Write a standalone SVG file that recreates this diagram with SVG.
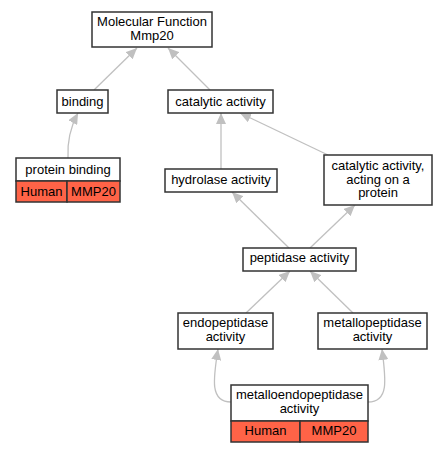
<svg xmlns="http://www.w3.org/2000/svg" width="447" height="453" viewBox="0 0 447 453">
<style>
.box{fill:#fff;stroke:#333;stroke-width:1.5}
.red{fill:#ff6347;stroke:#333;stroke-width:1.5}
text{font-family:"Liberation Sans",Arial,sans-serif;font-size:13px;fill:#000;text-anchor:middle}
.e{fill:none;stroke:#c0c0c0;stroke-width:1.3}
</style>
<defs>
<marker id="ah" markerUnits="userSpaceOnUse" markerWidth="12" markerHeight="10" refX="11" refY="5" orient="auto">
<path d="M0,0 L11,5 L0,10 Z" fill="#c0c0c0"/>
</marker>
</defs>
<rect width="447" height="453" fill="#fff"/>
<g id="edges">
<path class="e" d="M94,90 L137,48" marker-end="url(#ah)"/>
<path class="e" d="M210,90 L168,48" marker-end="url(#ah)"/>
<path class="e" d="M68,158 C67,140 71,126 78,113" marker-end="url(#ah)"/>
<path class="e" d="M221,169 L221,113" marker-end="url(#ah)"/>
<path class="e" d="M328,155 L240,113" marker-end="url(#ah)"/>
<path class="e" d="M289,248 L232,192" marker-end="url(#ah)"/>
<path class="e" d="M310,248 L355,205" marker-end="url(#ah)"/>
<path class="e" d="M246,313 L290,271" marker-end="url(#ah)"/>
<path class="e" d="M353,313 L310,271" marker-end="url(#ah)"/>
<path class="e" d="M231,402 C210,402 213,380 218,349" marker-end="url(#ah)"/>
<path class="e" d="M368,402 C389,402 386,380 382,349" marker-end="url(#ah)"/>
</g>
<g id="mf">
<rect class="box" x="92" y="12" width="120" height="35"/>
<text x="152" y="25.5">Molecular Function</text>
<text x="152" y="39.5">Mmp20</text>
</g>
<g id="binding">
<rect class="box" x="57" y="90" width="51" height="23"/>
<text x="82.5" y="106">binding</text>
</g>
<g id="catalytic">
<rect class="box" x="168" y="90" width="105" height="23"/>
<text x="220.5" y="106">catalytic activity</text>
</g>
<g id="protein_binding">
<rect class="box" x="16" y="158" width="104" height="23"/>
<text x="68" y="174">protein binding</text>
<rect class="red" x="16" y="181" width="51" height="21"/>
<rect class="red" x="67" y="181" width="53" height="21"/>
<text x="41.5" y="196">Human</text>
<text x="93.5" y="196">MMP20</text>
</g>
<g id="hydrolase">
<rect class="box" x="165" y="169" width="112" height="23"/>
<text x="221" y="184">hydrolase activity</text>
</g>
<g id="cat_protein">
<rect class="box" x="324" y="155" width="108" height="50"/>
<text x="378" y="170">catalytic activity,</text>
<text x="378" y="183.5">acting on a</text>
<text x="378" y="197">protein</text>
</g>
<g id="peptidase">
<rect class="box" x="243" y="248" width="113" height="23"/>
<text x="299.5" y="262">peptidase activity</text>
</g>
<g id="endopeptidase">
<rect class="box" x="178" y="313" width="95" height="36"/>
<text x="225.5" y="327">endopeptidase</text>
<text x="225.5" y="341">activity</text>
</g>
<g id="metallopeptidase">
<rect class="box" x="318" y="313" width="109" height="36"/>
<text x="372.5" y="327">metallopeptidase</text>
<text x="372.5" y="341">activity</text>
</g>
<g id="metalloendo">
<rect class="box" x="231" y="385" width="137" height="36"/>
<text x="299.5" y="399">metalloendopeptidase</text>
<text x="299.5" y="413">activity</text>
<rect class="red" x="231" y="421" width="69" height="21"/>
<rect class="red" x="300" y="421" width="68" height="21"/>
<text x="265.5" y="435">Human</text>
<text x="334" y="435">MMP20</text>
</g>
</svg>
